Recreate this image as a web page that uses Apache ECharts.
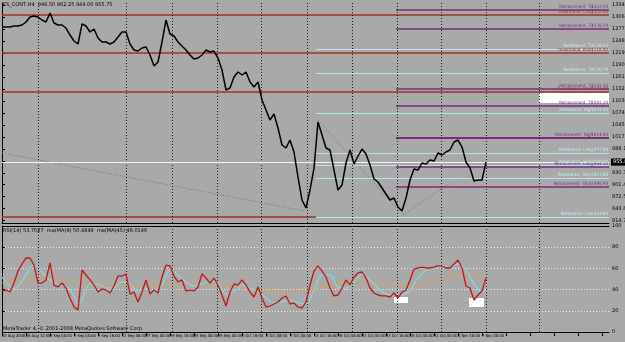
<!DOCTYPE html>
<html><head><meta charset="utf-8">
<script src="https://cdn.jsdelivr.net/npm/echarts/dist/echarts.min.js"></script>
<style>html,body{margin:0;padding:0;background:#a9a9a9;overflow:hidden}#c{width:625px;height:342px}</style>
</head><body><div id="c"></div><script>
// ---- data ----
const priceClose = [1281.5,1281.5,1281.5,1283.9,1283.9,1286.4,1293.6,1305.6,1308.0,1305.6,
1298.4,1293.6,1315.3,1291.2,1286.4,1286.4,1279.1,1262.2,1247.8,1240.6,
1288.8,1283.9,1269.5,1276.7,1255.0,1245.4,1245.4,1240.6,1245.4,1257.4,
1269.5,1269.5,1240.6,1226.1,1223.7,1230.9,1233.3,1214.1,1187.5,1197.2,
1245.4,1298.4,1264.7,1259.8,1245.4,1235.7,1226.1,1214.1,1204.4,1206.8,
1214.1,1226.1,1221.3,1223.7,1206.8,1177.9,1129.7,1134.5,1161.0,1173.1,
1165.9,1173.1,1149.0,1136.9,1149.0,1105.6,1081.5,1057.4,1071.9,1038.1,
997.2,989.9,1009.2,980.3,920.0,864.6,845.3,888.7,941.7,1052.6,
1021.3,989.9,985.1,936.9,888.7,900.8,953.8,985.1,951.4,970.6,
987.5,975.5,949.0,915.2,908.0,893.5,879.1,864.6,869.4,847.7,
838.1,869.4,912.8,939.3,936.9,953.8,951.4,961.0,958.6,977.9,
973.1,980.3,985.1,1004.4,1009.2,992.3,956.2,941.7,910.4,912.8,
912.8,956.2];

const rsiValues = [38.7,39.6,37.7,46.2,57.5,64.2,69.8,69.8,63.2,46.2,
46.2,49.1,65.1,44.3,42.5,46.2,41.5,32.1,23.6,20.8,
58.5,53.8,49.1,44.3,37.7,40.6,39.6,36.8,43.4,52.8,
52.8,54.7,35.8,37.7,28.3,37.7,49.1,35.8,39.6,36.8,
51.9,63.2,62.3,52.8,47.2,49.1,38.7,39.6,38.7,42.5,
54.7,50.9,46.2,50.9,44.3,34.9,24.5,37.7,45.3,44.3,
49.1,44.3,37.7,33.0,42.5,32.1,23.6,24.5,26.4,28.3,
32.1,34.0,26.4,27.4,23.6,22.6,28.3,44.3,57.5,62.3,
57.5,51.9,41.5,34.0,34.9,41.5,49.1,44.3,51.9,55.7,
56.6,50.9,41.5,36.8,34.9,34.0,34.0,33.0,36.8,32.1,
37.7,39.6,49.1,59.4,60.4,61.3,60.4,60.4,61.3,62.3,
62.3,60.4,60.4,64.2,67.9,60.4,43.4,41.5,30.2,34.9,
38.7,50.9];

const fastMABars = [0,3,5,7,8,10,12,14,16,18,19,20,22,24,26,28,30,32,34,36,38,40,42,44,46,48,50,52,54,56,58,60,62,64,66,68,70,72,74,76,78,80,82,84,86,88,90,92,94,96,98,100,102,104,106,108,110,112,114,116,118,120,121];
const fastMAValues = [51.9,40.6,48.1,60.4,63.2,56.6,49.1,44.3,43.4,34.0,26.4,30.2,45.3,45.3,41.5,41.5,47.2,45.3,37.7,41.5,37.7,44.3,58.5,53.8,47.2,43.4,45.3,48.1,46.2,35.8,37.7,44.3,41.5,37.7,32.1,27.4,28.3,30.2,27.4,26.4,39.6,53.8,53.8,42.5,41.5,47.2,53.8,49.1,41.5,35.8,34.9,34.9,39.6,50.9,58.5,60.4,62.3,61.3,64.2,58.5,45.3,37.7,39.6];

const slowMABars = [0,5,10,15,20,30,40,50,60,70,75,82,90,97,102,106,110,114,116,119,121];
const slowMAValues = [46.2,49.1,51.9,50.0,46.2,44.3,45.3,45.3,41.5,38.7,38.7,44.3,48.1,45.3,42.5,46.2,50.9,53.8,55.7,51.9,49.1];

const timeLabels = ["20 Aug 2008","26 Aug 12:00","2 Sep 08:00","5 Sep 00:00","9 Sep 16:00","12 Sep 08:00","17 Sep 00:00","19 Sep 16:00","24 Sep 08:00","29 Sep 00:00","1 Oct 16:00","6 Oct 08:00","9 Oct 00:00","13 Oct 16:00","16 Oct 08:00","21 Oct 00:00","23 Oct 16:00","28 Oct 08:00","31 Oct 00:00","4 Nov 16:00","7 Nov 08:00"];
const priceTickLabels = [814.70,843.60,872.50,901.40,930.30,959.20,988.10,1017.00,1045.90,1074.80,1103.70,1132.60,1161.50,1190.40,1219.30,1248.20,1277.10,1306.00,1334.90];
const gridBars = [9,31,42.5,53.75,64.75,76.25,87.5,98.75,109.75,121,134.25];

const retraceNames = ["Retracement  T4","Retracement  T3","Retracement  T2","Retracement  T1","Retracement  High","Retracement  Long","Retracement  Short"];
const retraceLevels = [1322.5,1276.7,1132.1,1091.2,1014.0,944.1,895.9];
const retraceStartBar = 98.5;
const downNames = ["Downtrend  Long","Downtrend  Point","Downtrend  Short"];
const downLevels = [1310.4,1218.9,1124.9];
const lowRedLevel = 823.6, lowRedEndBar = 78.5;
const resistNames = ["Resistance  T2","Resistance  T1","Resistance  High","Resistance  Long","Resistance  Point","Resistance  Short","Resistance  Low"];
const resistLevels = [1228.5,1170.7,1074.3,977.9,949.0,917.6,823.6];
const resistStartBar = 78.5;
const currentPrice = 955.85;
const trendLineA = [[0,977.8],[75.75,838.1]];
const trendLineB = [[79,1057.4],[99.5,835.7]];
const trendLineC = [[100.25,828.5],[112,905.6]];
const mainBox = [[134.25,1122.5],[151.75,1098.4]];
const rsiBoxes = [[[98,33.0],[101.5,27.4]],[[116.75,32.1],[120.5,23.6]]];
const rsiLegend = "RSI(14) 53.7027  ma(MA(9) 50.4849  ma(MA(45) 46.0146";
const titleText = "ES_CONT,H4  946.50 962.25 944.00 955.75";
const footerText = "MetaTrader 4, \u00a9 2001-2008 MetaQuotes Software Corp.";

// ---- chart ----
const X_MAX = 151.75;
const FONT = 'DejaVu Sans';
const NARROW = "'Liberation Sans Narrow','DejaVu Sans Condensed','Liberation Sans',sans-serif";
const PURPLE = '#7a2c7e', RED = '#a3302e', LBLUE = '#b6e2ea';
const chart = echarts.init(document.getElementById('c'), null, {renderer:'canvas'});

function lvlLabel(name, v, color){
  return {show:true, position:'insideEndTop', distance:1,
    formatter:'{n|'+name+'}{v|'+v.toFixed(2)+'}',
    rich:{n:{fontSize:4.5,color:color,fontFamily:NARROW,width:36},v:{fontSize:4.5,color:color,fontFamily:NARROW,width:15,align:'right'}}};
}
const levelLines = [];
retraceNames.forEach((n,k)=>{
  levelLines.push([{coord:[retraceStartBar,retraceLevels[k]],lineStyle:{color:PURPLE,width:n.indexOf('High')>0?2.2:1.6,type:'solid'},label:lvlLabel(n,retraceLevels[k],PURPLE)},{coord:[X_MAX,retraceLevels[k]]}]);
});
downNames.forEach((n,k)=>{
  levelLines.push([{coord:[0,downLevels[k]],lineStyle:{color:RED,width:1.6,type:'solid'},label:lvlLabel(n,downLevels[k],RED)},{coord:[X_MAX,downLevels[k]]}]);
});
levelLines.push([{coord:[0,lowRedLevel],lineStyle:{color:RED,width:1.6,type:'solid'},label:{show:false}},{coord:[lowRedEndBar,lowRedLevel]}]);
resistNames.forEach((n,k)=>{
  levelLines.push([{coord:[resistStartBar,resistLevels[k]],lineStyle:{color:LBLUE,width:1.2,type:'solid'},label:lvlLabel(n,resistLevels[k],'#c8eef2')},{coord:[X_MAX,resistLevels[k]]}]);
});

const vGrid = gridBars.map(b=>({xAxis:b}));
const vGridStyle = {color:'#1e1e1e',width:1,type:[1,2]};

const option = {
  animation:false,
  backgroundColor:'#a9a9a9',
  textStyle:{fontFamily:FONT},
  grid:[
    {left:2,right:16,top:3,height:220,outerBoundsMode:'none',containLabel:false},
    {left:2,right:16,top:226,bottom:10,outerBoundsMode:'none',containLabel:false}
  ],
  graphic:[
    {type:'text',left:3,top:2,style:{text:titleText,fontSize:5,fill:'#000',fontFamily:FONT}},
    {type:'text',left:3,top:228,style:{text:rsiLegend,fontSize:5,fill:'#000',fontFamily:FONT}},
    {type:'text',left:3,top:326,style:{text:footerText,fontSize:5,fill:'#000',fontFamily:FONT}}
  ],
  xAxis:[
    {gridIndex:0,type:'value',min:0,max:X_MAX,axisLine:{show:true,lineStyle:{color:'#000',width:1}},axisTick:{show:false},axisLabel:{show:false},splitLine:{show:false}},
    {gridIndex:1,type:'value',min:0,max:X_MAX,interval:6,
      axisLine:{show:true,lineStyle:{color:'#000',width:1}},
      axisTick:{show:true,length:4,lineStyle:{color:'#000'}},
      axisLabel:{show:true,fontSize:4,color:'#000',align:'left',margin:2,showMinLabel:true,showMaxLabel:false,hideOverlap:false,fontFamily:NARROW,
        formatter:v=>{const k=Math.round(v/6);return timeLabels[k]||'';}},
      splitLine:{show:false}},
    {gridIndex:1,type:'value',position:'top',min:0,max:X_MAX,axisLine:{show:true,lineStyle:{color:'#000',width:1}},axisTick:{show:false},axisLabel:{show:false},splitLine:{show:false}}
  ],
  yAxis:[
    {gridIndex:0,type:'value',position:'right',min:809.2,max:1339.4,
      axisLine:{show:true,lineStyle:{color:'#000'}},
      axisTick:{show:true,length:3,customValues:priceTickLabels,lineStyle:{color:'#000'}},
      axisLabel:{show:true,fontSize:5,color:'#000',margin:3,customValues:priceTickLabels,formatter:v=>v.toFixed(2)},
      splitLine:{show:false}},
    {gridIndex:1,type:'value',position:'right',min:0,max:100,interval:20,
      axisLine:{show:true,lineStyle:{color:'#000'}},
      axisTick:{show:true,length:3,lineStyle:{color:'#000'}},
      axisLabel:{show:true,fontSize:5,color:'#000',margin:3},
      splitLine:{show:true,lineStyle:{color:'#ececec',type:[1,2],width:1}}}
  ],
  series:[
    {type:'line',xAxisIndex:0,yAxisIndex:0,data:[],silent:true,
      markLine:{symbol:['none','none'],silent:true,data:levelLines,animation:false},
      markArea:{silent:true,itemStyle:{color:'#ffffff'},data:[[{coord:mainBox[0]},{coord:mainBox[1]}]]}},
    {type:'line',xAxisIndex:0,yAxisIndex:0,data:[],silent:true,
      markLine:{symbol:['none','none'],silent:true,label:{show:false},lineStyle:vGridStyle,data:vGrid}},
    {type:'line',xAxisIndex:0,yAxisIndex:0,data:[],silent:true,z:3,
      markLine:{symbol:['none','none'],silent:true,lineStyle:{color:'#f4f4f4',width:1,type:'solid'},
        data:[{yAxis:currentPrice,label:{show:true,position:'end',distance:2,formatter:currentPrice.toFixed(2),backgroundColor:'#000',color:'#fff',fontSize:5,padding:[1,2],fontFamily:FONT}}]}},
    {type:'line',xAxisIndex:0,yAxisIndex:0,data:trendLineA,symbol:'none',lineStyle:{color:'#6e6e6e',width:1,type:[1,2]},silent:true},
    {type:'line',xAxisIndex:0,yAxisIndex:0,data:trendLineB,symbol:'none',lineStyle:{color:'#6e6e6e',width:1,type:[1,2]},silent:true},
    {type:'line',xAxisIndex:0,yAxisIndex:0,data:trendLineC,symbol:'none',lineStyle:{color:'#6e6e6e',width:1,type:[1,2]},silent:true},
    {type:'line',xAxisIndex:0,yAxisIndex:0,z:5,symbol:'none',lineStyle:{color:'#000',width:1.5},
      data:priceClose.map((v,i)=>[i,v])},
    {type:'line',xAxisIndex:1,yAxisIndex:1,data:[],silent:true,
      markLine:{symbol:['none','none'],silent:true,label:{show:false},lineStyle:vGridStyle,data:vGrid},
      markArea:{silent:true,itemStyle:{color:'#ffffff'},data:rsiBoxes.map(b=>[{coord:b[0]},{coord:b[1]}])}},
    {type:'line',xAxisIndex:1,yAxisIndex:1,symbol:'none',smooth:0.3,lineStyle:{color:'#e3a04a',width:1},z:3,
      data:slowMABars.map((b,k)=>[b,slowMAValues[k]])},
    {type:'line',xAxisIndex:1,yAxisIndex:1,symbol:'none',smooth:0.3,lineStyle:{color:'#86d6dc',width:1.2},z:4,
      data:fastMABars.map((b,k)=>[b,fastMAValues[k]])},
    {type:'line',xAxisIndex:1,yAxisIndex:1,symbol:'none',lineStyle:{color:'#c0161a',width:1.3},z:5,
      data:rsiValues.map((v,i)=>[i,v])}
  ]
};
chart.setOption(option);
</script></body></html>
